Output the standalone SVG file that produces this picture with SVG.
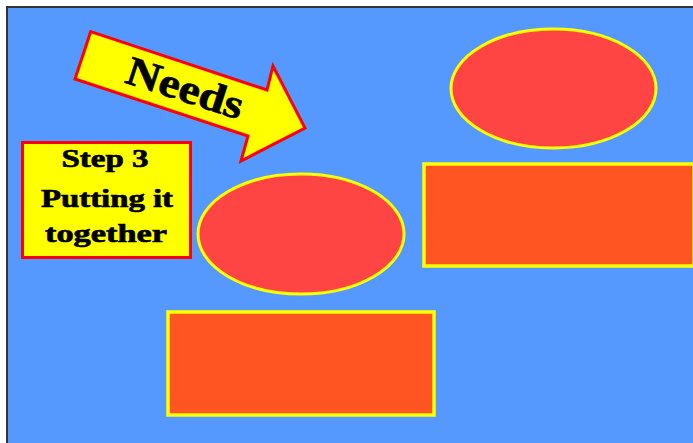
<svg xmlns="http://www.w3.org/2000/svg" width="693" height="443" viewBox="0 0 693 443">
<style>
.ell{fill:#FF4444;stroke:#FFFF00;stroke-width:3}
.box{fill:#FF5522;stroke:#FFFF00;stroke-width:3.5}
.lbl{fill:#FFFF00;stroke:#FF0000;stroke-width:3}
.t{font-family:"Liberation Serif",serif;font-weight:bold;fill:#000;stroke:#000;stroke-width:0.7;text-anchor:middle}
</style>
<rect x="0" y="0" width="693" height="443" fill="#FFFFFF"/>
<rect x="7" y="7" width="690" height="440" fill="#5599FF" stroke="#333333" stroke-width="2"/>
<g id="needs-arrow">
<polygon class="lbl" points="90.7,31.7 267,90 273,66 305,128 241,161 248,136 75,79"/>
<text class="t" x="0" y="0" font-size="41" textLength="121" lengthAdjust="spacingAndGlyphs" transform="translate(181,101) rotate(18)">Needs</text>
</g>
<g id="step3">
<rect class="lbl" x="22.5" y="142.5" width="168" height="115"/>
<text class="t" x="105" y="167" font-size="26" textLength="87" lengthAdjust="spacingAndGlyphs">Step 3</text>
<text class="t" x="107" y="207" font-size="26" textLength="132" lengthAdjust="spacingAndGlyphs">Putting it</text>
<text class="t" x="106" y="242" font-size="26" textLength="122" lengthAdjust="spacingAndGlyphs">together</text>
</g>
<g id="ellipse-top"><ellipse class="ell" cx="553.5" cy="88.5" rx="102.5" ry="59.5"/></g>
<g id="rect-right"><rect class="box" x="424" y="164" width="270" height="102"/></g>
<g id="ellipse-mid"><ellipse class="ell" cx="301" cy="234" rx="103" ry="60"/></g>
<g id="rect-bottom"><rect class="box" x="168" y="312" width="266" height="103"/></g>
<g id="connectors"></g>
</svg>
